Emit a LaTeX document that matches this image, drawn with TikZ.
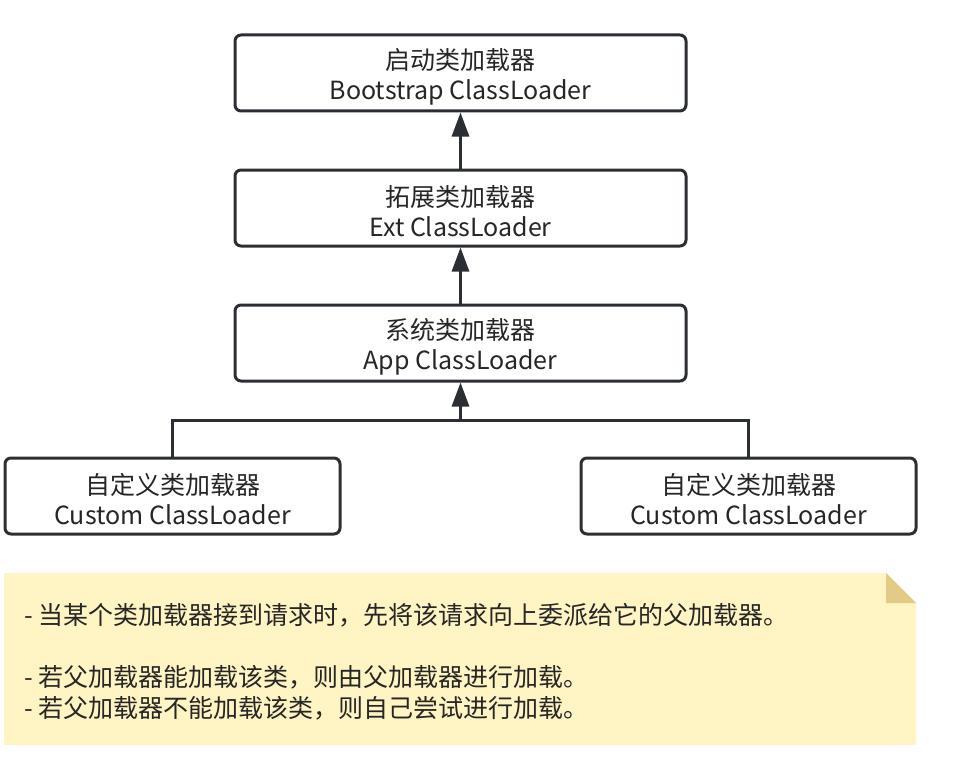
\documentclass[tikz,border=0pt]{standalone}
\usepackage{fontspec}
\setmainfont{Noto Sans CJK SC}
\usetikzlibrary{arrows.meta}
\definecolor{edge}{HTML}{2B2F33}
\definecolor{notefill}{HTML}{FFF4C3}
\definecolor{notefold}{HTML}{E2CB87}
\definecolor{txt}{HTML}{262626}
\newcommand{\lowstrut}{\rule{0pt}{28pt}}
\tikzset{
  loader/.style={draw=edge, line width=3pt, rounded corners=6pt, fill=white,
    minimum height=76pt, align=center, text=txt, font=\fontsize{25}{30}\selectfont, inner sep=0pt},
  wide/.style={minimum width=451pt},
  custom/.style={minimum width=335pt},
  link/.style={draw=edge, line width=3pt},
  arr/.style={link, -{Triangle[length=24pt,width=17pt]}}
}
\begin{document}
\begin{tikzpicture}[x=1pt,y=-1pt]
\useasboundingbox (0,0) rectangle (960,757);
\node[loader,wide] (boot) at (460.5,73) {\lowstrut 启动类加载器\\Bootstrap ClassLoader};
\node[loader,wide] (ext) at (460.5,208) {\lowstrut 拓展类加载器\\Ext ClassLoader};
\node[loader,wide] (app) at (460.5,343) {\lowstrut 系统类加载器\\App ClassLoader};
\node[loader,custom] (cl) at (172.5,496) {\lowstrut 自定义类加载器\\Custom ClassLoader};
\node[loader,custom] (cr) at (748.5,496) {\lowstrut 自定义类加载器\\Custom ClassLoader};
\coordinate (j) at (460.5,420);
\draw[arr] (ext.north) -- (boot.south);
\draw[arr] (app.north) -- (ext.south);
\draw[link] (cl.north) |- (j) -| (cr.north);
\draw[arr] (j) -- (app.south);
% note
\fill[notefill] (4,573) -- (886,573) -- (916,603) -- (916,745) -- (4,745) -- cycle;
\fill[notefold] (886,573) -- (886,603) -- (916,603) -- cycle;
\node[anchor=west, text=txt, font=\fontsize{25}{31}\selectfont, align=left, inner sep=0pt] (note) at (24,662)
{- 当某个类加载器接到请求时，先将该请求向上委派给它的父加载器。\\[31pt]
- 若父加载器能加载该类，则由父加载器进行加载。\\
- 若父加载器不能加载该类，则自己尝试进行加载。};
\end{tikzpicture}
\end{document}
